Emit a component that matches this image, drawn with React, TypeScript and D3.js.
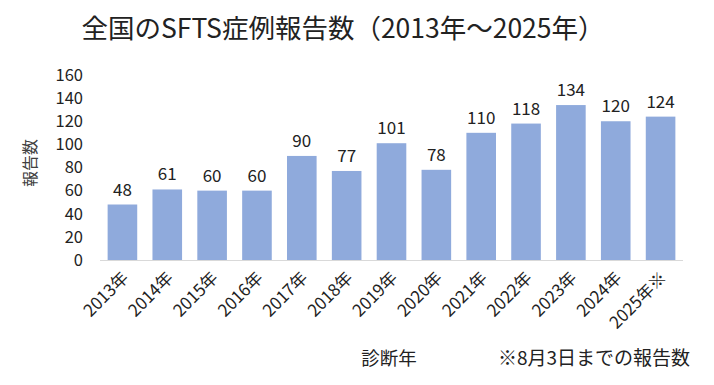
import React from "react";
import * as d3 from "d3";

const years = ["2013年","2014年","2015年","2016年","2017年","2018年","2019年","2020年","2021年","2022年","2023年","2024年","2025年※"];
const counts = [48, 61, 60, 60, 90, 77, 101, 78, 110, 118, 134, 120, 124];
const yTicks = [0, 20, 40, 60, 80, 100, 120, 140, 160];
const title = "全国のSFTS症例報告数（2013年～2025年）";
const yTitle = "報告数";
const xTitle = "診断年";
const note = "※8月3日までの報告数";

const W = 714, H = 385;
const FONT = "'Noto Sans CJK JP', 'Noto Sans', sans-serif";

export default function App() {
  const x = d3.scaleBand<string>().domain(years).range([100, 683]).paddingInner(0.34).paddingOuter(0.17);
  const y = d3.scaleLinear().domain([0, 160]).range([260, 75]);
  return (
    <svg width={W} height={H} style={{ position: "absolute", left: 0, top: 0, background: "#fff" }} fontFamily={FONT}>
      <text x={343} y={38} textAnchor="middle" fontSize={26.5} fill="#222">{title}</text>
      <text transform={`translate(36,163) rotate(-90)`} textAnchor="middle" fontSize={16} fill="#404040">{yTitle}</text>
      {yTicks.map(t => (
        <text key={t} x={83} y={y(t)} dy="0.35em" textAnchor="end" fontSize={16.5} fill="#222">{t}</text>
      ))}
      {years.map((yr, i) => (
        <g key={yr}>
          <rect x={x(yr)} y={y(counts[i])} width={x.bandwidth()} height={y(0) - y(counts[i])} fill="#8FAADC" />
          <text x={(x(yr) as number) + x.bandwidth() / 2} y={y(counts[i]) - 9} textAnchor="middle" fontSize={17} fill="#222">{counts[i]}</text>
          <text transform={`translate(${(x(yr) as number) + x.bandwidth() / 2 + 7},279) rotate(-45)`} textAnchor="end" fontSize={17} fill="#222">{yr}</text>
        </g>
      ))}
      <line x1={100} x2={683} y1={y(0) + 0.5} y2={y(0) + 0.5} stroke="#D9D9D9" strokeWidth={1} />
      <text x={389} y={365} textAnchor="middle" fontSize={18.5} fill="#222">{xTitle}</text>
      <text x={594} y={365} textAnchor="middle" fontSize={19} fill="#222">{note}</text>
    </svg>
  );
}
